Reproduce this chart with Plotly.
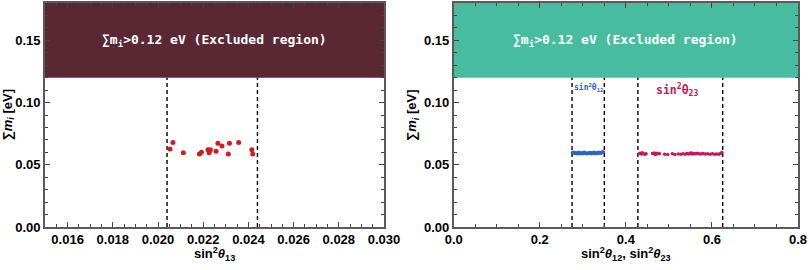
import plotly.graph_objects as go

# ---- data ----
s13_x = [0.02053, 0.02066, 0.02112, 0.02183, 0.02192, 0.02221, 0.02226, 0.02232, 0.02257,
         0.02265, 0.02283, 0.02316, 0.02311, 0.02357, 0.02415, 0.02419, 0.02228]
s13_y = [0.0626, 0.0680, 0.0596, 0.0586, 0.0600, 0.0621, 0.0596, 0.0621, 0.0608,
         0.0672, 0.0650, 0.0672, 0.0586, 0.0680, 0.0621, 0.0586, 0.0612]

s12_x = [0.276, 0.278, 0.280, 0.282, 0.284, 0.286, 0.288, 0.290, 0.292, 0.294, 0.296,
         0.298, 0.300, 0.302, 0.304, 0.306, 0.308, 0.310, 0.312, 0.314, 0.316, 0.318,
         0.320, 0.322, 0.324, 0.326, 0.328, 0.330, 0.332, 0.334, 0.336, 0.338, 0.340,
         0.342, 0.344, 0.346, 0.348, 0.279, 0.291, 0.303, 0.317, 0.327, 0.337, 0.345]
s12_y = [0.0598, 0.0592, 0.0595, 0.0590, 0.0596, 0.0589, 0.0593, 0.0597, 0.0588, 0.0594, 0.0591,
         0.0596, 0.0589, 0.0593, 0.0598, 0.0590, 0.0595, 0.0588, 0.0592, 0.0597, 0.0590, 0.0594,
         0.0589, 0.0596, 0.0591, 0.0598, 0.0593, 0.0588, 0.0595, 0.0597, 0.0590, 0.0594, 0.0599,
         0.0592, 0.0596, 0.0600, 0.0602, 0.0601, 0.0600, 0.0601, 0.0599, 0.0600, 0.0601, 0.0603]

s23_x = [0.432, 0.436, 0.440, 0.444, 0.447, 0.462, 0.466, 0.470, 0.473, 0.478, 0.490, 0.497,
         0.508, 0.514, 0.522, 0.528, 0.533, 0.538, 0.542, 0.546, 0.550, 0.554, 0.558, 0.562,
         0.566, 0.570, 0.574, 0.579, 0.584, 0.590, 0.596, 0.601, 0.606, 0.611, 0.616, 0.620,
         0.623, 0.438, 0.468, 0.552]
s23_y = [0.0592, 0.0586, 0.0590, 0.0585, 0.0588, 0.0590, 0.0594, 0.0586, 0.0592, 0.0589, 0.0585,
         0.0583, 0.0588, 0.0582, 0.0587, 0.0584, 0.0588, 0.0585, 0.0590, 0.0586, 0.0592, 0.0587,
         0.0591, 0.0588, 0.0593, 0.0589, 0.0587, 0.0591, 0.0586, 0.0589, 0.0585, 0.0588, 0.0584,
         0.0587, 0.0585, 0.0590, 0.0598, 0.0597, 0.0583, 0.0594]

s13_bounds = [0.0204, 0.0244]
s12_bounds = [0.275, 0.350]
s23_bounds = [0.428, 0.625]
sum_limit = 0.12
y_max = 0.18

fig = go.Figure()

AX_FONT = dict(family="Liberation Sans, Arial", size=13, color="black", weight="bold")

def dashed(xv, xa, ya):
    fig.add_trace(go.Scatter(x=[xv, xv], y=[0, sum_limit], mode="lines",
                             line=dict(color="black", width=1.4, dash="4px,3px"),
                             xaxis=xa, yaxis=ya, showlegend=False, hoverinfo="skip"))

for b in s13_bounds:
    dashed(b, "x", "y")
for b in s12_bounds + s23_bounds:
    dashed(b, "x2", "y2")

fig.add_trace(go.Scatter(x=s13_x, y=s13_y, mode="markers",
                         marker=dict(color="#D51A1F", size=5), xaxis="x", yaxis="y", showlegend=False))
fig.add_trace(go.Scatter(x=s12_x, y=s12_y, mode="markers",
                         marker=dict(color="#2F62C9", size=3.5), xaxis="x2", yaxis="y2", showlegend=False))
fig.add_trace(go.Scatter(x=s23_x, y=s23_y, mode="markers",
                         marker=dict(color="#C8175B", size=3.5), xaxis="x2", yaxis="y2", showlegend=False))

# excluded regions
fig.add_shape(type="rect", xref="x domain", yref="y", x0=0, x1=1, y0=sum_limit, y1=y_max,
              fillcolor="#5A2833", line_width=0, layer="below")
fig.add_shape(type="rect", xref="x2 domain", yref="y2", x0=0, x1=1, y0=sum_limit, y1=y_max,
              fillcolor="#48BC9F", line_width=0, layer="below")

excl_text = "<b>∑m<sub>i</sub>>0.12 eV (Excluded region)</b>"
for xr, yr in [("x domain", "y"), ("x2 domain", "y2")]:
    fig.add_annotation(x=0.5, y=0.15, xref=xr, yref=yr, text=excl_text, showarrow=False,
                       font=dict(family="DejaVu Sans Mono", size=13, color="white"))

fig.add_annotation(x=(s12_bounds[0] + s12_bounds[1]) / 2, y=0.1125, xref="x2", yref="y2",
                   text="<b>sin<sup>2</sup>θ<sub>12</sub></b>", showarrow=False,
                   font=dict(family="DejaVu Sans Mono", size=8, color="#2F62C9"))
fig.add_annotation(x=0.519, y=0.110, xref="x2", yref="y2",
                   text="<b>sin<sup>2</sup>θ<sub>23</sub></b>", showarrow=False,
                   font=dict(family="DejaVu Sans Mono", size=11.5, color="#C8175B"))

W = 809.0
H_PLOT = 224.0
# axis titles as annotations
ytitle = "<b>∑<i>m<sub>i</sub></i> [eV]</b>"
fig.add_annotation(x=7.5 / W, y=0.5, xref="paper", yref="paper", text=ytitle, textangle=-90,
                   showarrow=False, xanchor="center", yanchor="middle", font=AX_FONT)
fig.add_annotation(x=412 / W, y=0.5, xref="paper", yref="paper", text=ytitle, textangle=-90,
                   showarrow=False, xanchor="center", yanchor="middle", font=AX_FONT)
fig.add_annotation(x=(45 + 384) / 2 / W, y=-27 / H_PLOT, xref="paper", yref="paper",
                   text="<b>sin<sup>2</sup><i>θ</i><sub>13</sub></b>",
                   showarrow=False, xanchor="center", yanchor="middle", font=AX_FONT)
fig.add_annotation(x=(453.7 + 798) / 2 / W, y=-27 / H_PLOT, xref="paper", yref="paper",
                   text="<b>sin<sup>2</sup><i>θ</i><sub>12</sub>, sin<sup>2</sup><i>θ</i><sub>23</sub></b>",
                   showarrow=False, xanchor="center", yanchor="middle", font=AX_FONT)

frame = dict(showline=True, linecolor="#5a5a5a", linewidth=1.6, mirror="ticks",
             ticks="inside", ticklen=5, tickwidth=1, tickcolor="#444",
             showgrid=False, zeroline=False, tickfont=AX_FONT, automargin=False)
minor = dict(ticks="inside", ticklen=3, tickcolor="#444", showgrid=False)

fig.update_layout(
    width=809, height=270, plot_bgcolor="white", paper_bgcolor="white",
    margin=dict(l=0, r=0, t=3, b=43, autoexpand=False),
    xaxis=dict(domain=[45 / W, 384 / W], range=[0.015, 0.030], tick0=0.016, dtick=0.002,
               tickformat=".3f", minor=dict(dtick=0.0005, **minor), anchor="y", **frame),
    yaxis=dict(domain=[0, 1], range=[0, y_max], dtick=0.05, tickformat=".2f",
               minor=dict(dtick=0.01, **minor), anchor="x", **frame),
    xaxis2=dict(domain=[453.7 / W, 798 / W], range=[0, 0.8], dtick=0.2, tickformat=".1f",
                minor=dict(dtick=0.05, **minor), anchor="y2", **frame),
    yaxis2=dict(domain=[0, 1], range=[0, y_max], dtick=0.05, tickformat=".2f",
                minor=dict(dtick=0.01, **minor), anchor="x2", **frame),
)

fig.write_html("out.html", config={"displayModeBar": False},
               post_script="document.body.style.margin='0';document.body.style.padding='0';")
